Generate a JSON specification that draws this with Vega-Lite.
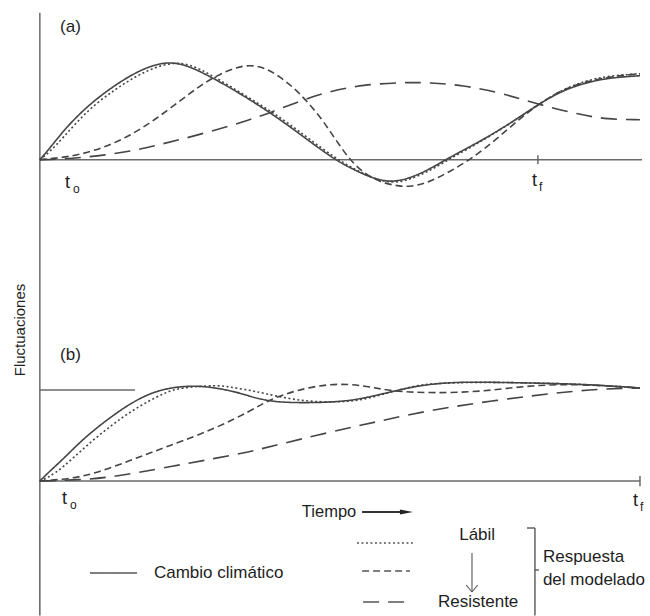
{
  "$schema": "https://vega.github.io/schema/vega-lite/v6.json",
  "padding": 0,
  "spacing": 0,
  "bounds": "flush",
  "background": "white",
  "config": {"view": {"stroke": null}, "text": {"font": "Liberation Sans", "color": "#1e1e1e"}},
  "datasets": {
    "curvesA": [
      {"s":"clima","t":0,"f":0},{"s":"clima","t":2.04,"f":0.12},{"s":"clima","t":4.65,"f":0.29},{"s":"clima","t":8.06,"f":0.474},{"s":"clima","t":11.47,"f":0.625},{"s":"clima","t":15.09,"f":0.76},{"s":"clima","t":18.1,"f":0.855},{"s":"clima","t":21.11,"f":0.935},{"s":"clima","t":25.13,"f":1.0},{"s":"clima","t":29.14,"f":0.975},{"s":"clima","t":34.16,"f":0.85},{"s":"clima","t":38.18,"f":0.735},{"s":"clima","t":42.19,"f":0.612},{"s":"clima","t":46.21,"f":0.48},{"s":"clima","t":50.22,"f":0.337},{"s":"clima","t":54.24,"f":0.184},{"s":"clima","t":59.26,"f":0},{"s":"clima","t":62.27,"f":-0.082},{"s":"clima","t":66.28,"f":-0.18},{"s":"clima","t":70.3,"f":-0.235},{"s":"clima","t":74.31,"f":-0.19},{"s":"clima","t":78.33,"f":-0.095},{"s":"clima","t":82.34,"f":0.025},{"s":"clima","t":86.36,"f":0.133},{"s":"clima","t":90.37,"f":0.245},{"s":"clima","t":94.99,"f":0.39},{"s":"clima","t":100,"f":0.561},{"s":"clima","t":104.43,"f":0.694},{"s":"clima","t":109.45,"f":0.786},{"s":"clima","t":114.47,"f":0.837},{"s":"clima","t":120.49,"f":0.857},
      {"s":"labil","t":0,"f":0},{"s":"labil","t":2.04,"f":0.082},{"s":"labil","t":4.65,"f":0.224},{"s":"labil","t":8.06,"f":0.42},{"s":"labil","t":11.47,"f":0.582},{"s":"labil","t":15.09,"f":0.714},{"s":"labil","t":18.1,"f":0.816},{"s":"labil","t":22.11,"f":0.925},{"s":"labil","t":26.53,"f":0.995},{"s":"labil","t":30.14,"f":0.975},{"s":"labil","t":34.16,"f":0.872},{"s":"labil","t":38.18,"f":0.75},{"s":"labil","t":42.19,"f":0.625},{"s":"labil","t":46.21,"f":0.5},{"s":"labil","t":50.22,"f":0.36},{"s":"labil","t":54.24,"f":0.205},{"s":"labil","t":59.26,"f":0.02},{"s":"labil","t":62.27,"f":-0.07},{"s":"labil","t":66.28,"f":-0.18},{"s":"labil","t":70.7,"f":-0.245},{"s":"labil","t":74.31,"f":-0.204},{"s":"labil","t":78.33,"f":-0.112},{"s":"labil","t":82.34,"f":0.01},{"s":"labil","t":86.36,"f":0.122},{"s":"labil","t":90.37,"f":0.24},{"s":"labil","t":94.99,"f":0.388},{"s":"labil","t":100,"f":0.561},{"s":"labil","t":104.43,"f":0.704},{"s":"labil","t":109.45,"f":0.806},{"s":"labil","t":114.47,"f":0.857},{"s":"labil","t":120.49,"f":0.878},
      {"s":"medio","t":0,"f":0},{"s":"medio","t":4.05,"f":0.02},{"s":"medio","t":8.06,"f":0.051},{"s":"medio","t":13.08,"f":0.128},{"s":"medio","t":18.1,"f":0.245},{"s":"medio","t":23.12,"f":0.408},{"s":"medio","t":28.14,"f":0.6},{"s":"medio","t":32.15,"f":0.755},{"s":"medio","t":35.57,"f":0.86},{"s":"medio","t":39.18,"f":0.94},{"s":"medio","t":42.19,"f":0.969},{"s":"medio","t":45.2,"f":0.939},{"s":"medio","t":48.21,"f":0.847},{"s":"medio","t":51.23,"f":0.724},{"s":"medio","t":53.63,"f":0.595},{"s":"medio","t":56.24,"f":0.44},{"s":"medio","t":58.25,"f":0.29},{"s":"medio","t":60.26,"f":0.14},{"s":"medio","t":62.27,"f":0},{"s":"medio","t":64.88,"f":-0.133},{"s":"medio","t":68.29,"f":-0.23},{"s":"medio","t":72.31,"f":-0.276},{"s":"medio","t":75.32,"f":-0.27},{"s":"medio","t":78.33,"f":-0.224},{"s":"medio","t":82.34,"f":-0.122},{"s":"medio","t":86.96,"f":0.02},{"s":"medio","t":91.78,"f":0.214},{"s":"medio","t":96.4,"f":0.42},{"s":"medio","t":100,"f":0.561},{"s":"medio","t":104.43,"f":0.704},{"s":"medio","t":109.45,"f":0.796},{"s":"medio","t":114.47,"f":0.847},{"s":"medio","t":120.49,"f":0.878},
      {"s":"resist","t":0,"f":0},{"s":"resist","t":4.05,"f":0.005},{"s":"resist","t":8.06,"f":0.02},{"s":"resist","t":13.08,"f":0.048},{"s":"resist","t":18.1,"f":0.085},{"s":"resist","t":23.12,"f":0.143},{"s":"resist","t":28.14,"f":0.204},{"s":"resist","t":35.57,"f":0.306},{"s":"resist","t":42.19,"f":0.408},{"s":"resist","t":46.21,"f":0.48},{"s":"resist","t":52.23,"f":0.6},{"s":"resist","t":58.25,"f":0.7},{"s":"resist","t":64.88,"f":0.765},{"s":"resist","t":72.91,"f":0.79},{"s":"resist","t":78.33,"f":0.786},{"s":"resist","t":84.95,"f":0.76},{"s":"resist","t":91.78,"f":0.69},{"s":"resist","t":96.4,"f":0.622},{"s":"resist","t":100.41,"f":0.561},{"s":"resist","t":108.44,"f":0.459},{"s":"resist","t":113.86,"f":0.412},{"s":"resist","t":120.49,"f":0.408}
    ],
    "curvesB": [
      {"s":"clima","t":0,"f":0},{"s":"clima","t":2.04,"f":0.108},{"s":"clima","t":4.65,"f":0.235},{"s":"clima","t":8.06,"f":0.419},{"s":"clima","t":11.47,"f":0.575},{"s":"clima","t":15.09,"f":0.72},{"s":"clima","t":18.1,"f":0.83},{"s":"clima","t":22.11,"f":0.946},{"s":"clima","t":26.73,"f":1.011},{"s":"clima","t":31.55,"f":1.025},{"s":"clima","t":35.57,"f":1.0},{"s":"clima","t":39.58,"f":0.955},{"s":"clima","t":42.19,"f":0.91},{"s":"clima","t":46.21,"f":0.855},{"s":"clima","t":51.63,"f":0.839},{"s":"clima","t":60.26,"f":0.849},{"s":"clima","t":65.28,"f":0.892},{"s":"clima","t":70.3,"f":0.957},{"s":"clima","t":76.32,"f":1.03},{"s":"clima","t":82.34,"f":1.06},{"s":"clima","t":88.37,"f":1.065},{"s":"clima","t":98.4,"f":1.054},{"s":"clima","t":108.44,"f":1.043},{"s":"clima","t":117.88,"f":1.011},{"s":"clima","t":120.49,"f":1.0},
      {"s":"labil","t":0,"f":0},{"s":"labil","t":3.04,"f":0.075},{"s":"labil","t":6.66,"f":0.247},{"s":"labil","t":10.67,"f":0.441},{"s":"labil","t":14.69,"f":0.61},{"s":"labil","t":18.1,"f":0.742},{"s":"labil","t":21.51,"f":0.85},{"s":"labil","t":25.13,"f":0.95},{"s":"labil","t":28.14,"f":1.005},{"s":"labil","t":35.57,"f":1.032},{"s":"labil","t":38.18,"f":1.011},{"s":"labil","t":42.19,"f":0.975},{"s":"labil","t":44.8,"f":0.946},{"s":"labil","t":50.22,"f":0.882},{"s":"labil","t":54.84,"f":0.852},{"s":"labil","t":60.26,"f":0.849},{"s":"labil","t":64.88,"f":0.871},{"s":"labil","t":69.7,"f":0.946},{"s":"labil","t":74.31,"f":1.011},{"s":"labil","t":78.33,"f":1.05},{"s":"labil","t":88.37,"f":1.065},{"s":"labil","t":98.4,"f":1.054},{"s":"labil","t":108.44,"f":1.043},{"s":"labil","t":120.49,"f":1.0},
      {"s":"medio","t":0,"f":0},{"s":"medio","t":6.05,"f":0.022},{"s":"medio","t":11.47,"f":0.086},{"s":"medio","t":18.1,"f":0.22},{"s":"medio","t":23.12,"f":0.323},{"s":"medio","t":28.14,"f":0.42},{"s":"medio","t":35.57,"f":0.575},{"s":"medio","t":42.19,"f":0.75},{"s":"medio","t":46.21,"f":0.88},{"s":"medio","t":51.63,"f":0.978},{"s":"medio","t":58.25,"f":1.05},{"s":"medio","t":64.88,"f":1.032},{"s":"medio","t":70.3,"f":0.965},{"s":"medio","t":78.33,"f":0.946},{"s":"medio","t":88.37,"f":0.957},{"s":"medio","t":98.4,"f":1.03},{"s":"medio","t":108.44,"f":1.043},{"s":"medio","t":120.49,"f":1.0},
      {"s":"resist","t":0,"f":0},{"s":"resist","t":8.06,"f":0.011},{"s":"resist","t":14.69,"f":0.043},{"s":"resist","t":24.72,"f":0.14},{"s":"resist","t":35.57,"f":0.247},{"s":"resist","t":42.19,"f":0.315},{"s":"resist","t":46.21,"f":0.37},{"s":"resist","t":58.25,"f":0.527},{"s":"resist","t":68.29,"f":0.645},{"s":"resist","t":78.33,"f":0.763},{"s":"resist","t":91.78,"f":0.871},{"s":"resist","t":105.03,"f":0.957},{"s":"resist","t":113.86,"f":0.995},{"s":"resist","t":120.49,"f":1.0}
    ],
    "legendLines": [
      {"s":"clima","t":10.07,"y":48},{"s":"clima","t":19.5,"y":48},
      {"s":"labil","t":63.67,"y":18},{"s":"labil","t":74.9,"y":18},
      {"s":"medio","t":64.7,"y":46},{"s":"medio","t":74.3,"y":46},
      {"s":"resist","t":64.9,"y":77},{"s":"resist","t":74.3,"y":77}
    ]
  },
  "vconcat": [
    {
      "width": 650,
      "height": 290,
      "encoding": {
        "x": {"field": "t", "type": "quantitative", "scale": {"domain": [-8, 122.5], "nice": false, "zero": false}, "axis": null},
        "y": {"field": "f", "type": "quantitative", "scale": {"domain": [-1.33, 1.63], "nice": false, "zero": false}, "axis": null}
      },
      "layer": [
        {
          "data": {"values": [
            {"t": 0, "f": 1.5, "t2": 0, "f2": -1.33},
            {"t": 0, "f": 0, "t2": 120.9, "f2": 0},
            {"t": 100, "f": -0.045, "t2": 100, "f2": 0.045}
          ]},
          "mark": {"type": "rule", "color": "#6a6a6a", "strokeWidth": 1.5},
          "encoding": {"x2": {"field": "t2"}, "y2": {"field": "f2"}}
        },
        {
          "data": {"name": "curvesA"},
          "mark": {"type": "line", "interpolate": "basis", "strokeWidth": 1.6, "color": "#454545"},
          "encoding": {
            "strokeDash": {"field": "s", "type": "nominal", "scale": {"domain": ["clima", "labil", "medio", "resist"], "range": [[1, 0], [2, 2.5], [7, 4], [16, 9]]}, "legend": null}
          }
        },
        {
          "data": {"values": [{"t": 4.05, "f": 1.357, "label": "(a)"}]},
          "mark": {"type": "text", "align": "left", "baseline": "middle", "fontSize": 17},
          "encoding": {"text": {"field": "label"}}
        },
        {
          "data": {"values": [{"t": 5.05, "f": -0.235, "label": "t"}, {"t": 98.8, "f": -0.214, "label": "t"}]},
          "mark": {"type": "text", "align": "left", "baseline": "middle", "fontSize": 18},
          "encoding": {"text": {"field": "label"}}
        },
        {
          "data": {"values": [{"t": 6.66, "f": -0.30, "label": "o"}, {"t": 100.2, "f": -0.28, "label": "f"}]},
          "mark": {"type": "text", "align": "left", "baseline": "middle", "fontSize": 12},
          "encoding": {"text": {"field": "label"}}
        }
      ]
    },
    {
      "width": 650,
      "height": 235,
      "encoding": {
        "x": {"field": "t", "type": "quantitative", "scale": {"domain": [-8, 122.5], "nice": false, "zero": false}, "axis": null},
        "y": {"field": "f", "type": "quantitative", "scale": {"domain": [-0.473, 2.054], "nice": false, "zero": false}, "axis": null}
      },
      "layer": [
        {
          "data": {"values": [
            {"t": 0, "f": 2.054, "t2": 0, "f2": -0.473},
            {"t": 0, "f": 0, "t2": 120.49, "f2": 0},
            {"t": 120.49, "f": -0.055, "t2": 120.49, "f2": 0.055},
            {"t": 0, "f": 0.978, "t2": 19.1, "f2": 0.978}
          ]},
          "mark": {"type": "rule", "color": "#6a6a6a", "strokeWidth": 1.5},
          "encoding": {"x2": {"field": "t2"}, "y2": {"field": "f2"}}
        },
        {
          "data": {"values": [{"t": 64.7, "f": -0.333, "t2": 72.5, "f2": -0.333}]},
          "mark": {"type": "rule", "color": "#333333", "strokeWidth": 2.2},
          "encoding": {"x2": {"field": "t2"}, "y2": {"field": "f2"}}
        },
        {
          "data": {"values": [{"t": 73.6, "f": -0.333}]},
          "mark": {"type": "point", "shape": "M-1,-0.38L1,0L-1,0.38Z", "size": 170, "filled": true, "color": "#222222", "opacity": 1}
        },
        {
          "data": {"name": "curvesB"},
          "mark": {"type": "line", "interpolate": "basis", "strokeWidth": 1.6, "color": "#454545"},
          "encoding": {
            "strokeDash": {"field": "s", "type": "nominal", "scale": {"domain": ["clima", "labil", "medio", "resist"], "range": [[1, 0], [2, 2.5], [7, 4], [16, 9]]}, "legend": null}
          }
        },
        {
          "data": {"values": [{"t": 4.05, "f": 1.355, "label": "(b)"}]},
          "mark": {"type": "text", "align": "left", "baseline": "middle", "fontSize": 17},
          "encoding": {"text": {"field": "label"}}
        },
        {
          "data": {"values": [{"t": 52.6, "f": -0.333, "label": "Tiempo"}]},
          "mark": {"type": "text", "align": "left", "baseline": "middle", "fontSize": 16.5},
          "encoding": {"text": {"field": "label"}}
        },
        {
          "data": {"values": [{"t": -4, "f": 1.624, "label": "Fluctuaciones"}]},
          "mark": {"type": "text", "align": "center", "baseline": "middle", "fontSize": 15, "angle": 270},
          "encoding": {"text": {"field": "label"}}
        },
        {
          "data": {"values": [{"t": 4.45, "f": -0.194, "label": "t"}, {"t": 119.1, "f": -0.215, "label": "t"}]},
          "mark": {"type": "text", "align": "left", "baseline": "middle", "fontSize": 18},
          "encoding": {"text": {"field": "label"}}
        },
        {
          "data": {"values": [{"t": 6.05, "f": -0.26, "label": "o"}, {"t": 120.5, "f": -0.28, "label": "f"}]},
          "mark": {"type": "text", "align": "left", "baseline": "middle", "fontSize": 12},
          "encoding": {"text": {"field": "label"}}
        }
      ]
    },
    {
      "width": 650,
      "height": 91,
      "encoding": {
        "x": {"field": "t", "type": "quantitative", "scale": {"domain": [-8, 122.5], "nice": false, "zero": false}, "axis": null},
        "y": {"field": "y", "type": "quantitative", "scale": {"domain": [0, 91], "reverse": true, "nice": false, "zero": false}, "axis": null}
      },
      "layer": [
        {
          "data": {"values": [
            {"t": 0, "y": 0, "t2": 0, "y2": 90.5},
            {"t": 99.4, "y": 3, "t2": 99.4, "y2": 90.5},
            {"t": 97.8, "y": 3, "t2": 99.4, "y2": 3},
            {"t": 99.4, "y": 45, "t2": 100.2, "y2": 45}
          ]},
          "mark": {"type": "rule", "color": "#555555", "strokeWidth": 1.4},
          "encoding": {"x2": {"field": "t2"}, "y2": {"field": "y2"}}
        },
        {
          "data": {"values": [
            {"t": 86.76, "y": 28, "t2": 86.76, "y2": 67},
            {"t": 85.6, "y": 60, "t2": 86.76, "y2": 67},
            {"t": 87.9, "y": 60, "t2": 86.76, "y2": 67}
          ]},
          "mark": {"type": "rule", "color": "#555555", "strokeWidth": 1.1},
          "encoding": {"x2": {"field": "t2"}, "y2": {"field": "y2"}}
        },
        {
          "data": {"name": "legendLines"},
          "mark": {"type": "line", "strokeWidth": 1.6, "color": "#555555"},
          "encoding": {
            "strokeDash": {"field": "s", "type": "nominal", "scale": {"domain": ["clima", "labil", "medio", "resist"], "range": [[1, 0], [2, 2.5], [7, 4], [16, 9]]}, "legend": null}
          }
        },
        {
          "data": {"values": [
            {"t": 22.9, "y": 48, "label": "Cambio climático"},
            {"t": 101, "y": 32, "label": "Respuesta"},
            {"t": 101, "y": 55, "label": "del modelado"}
          ]},
          "mark": {"type": "text", "align": "left", "baseline": "middle", "fontSize": 17},
          "encoding": {"text": {"field": "label"}}
        },
        {
          "data": {"values": [
            {"t": 87.8, "y": 10, "label": "Lábil"},
            {"t": 88, "y": 77, "label": "Resistente"}
          ]},
          "mark": {"type": "text", "align": "center", "baseline": "middle", "fontSize": 17},
          "encoding": {"text": {"field": "label"}}
        }
      ]
    }
  ]
}
